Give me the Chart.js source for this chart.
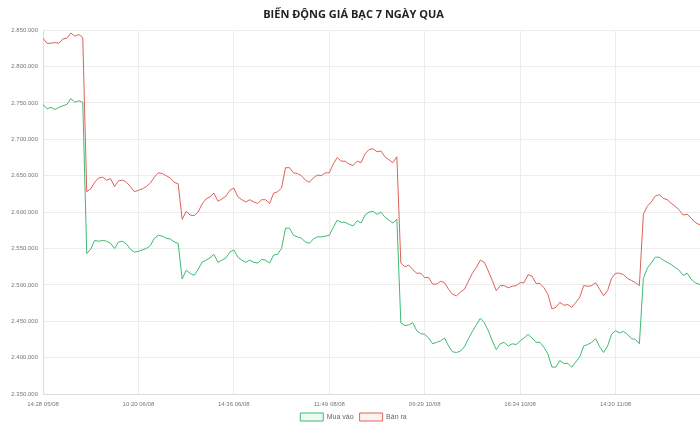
<!DOCTYPE html>
<html>
<head>
<meta charset="utf-8">
<script src="https://cdn.jsdelivr.net/npm/chart.js@4/dist/chart.umd.min.js"></script>
<style>
  html, body { margin: 0; padding: 0; background: #fff; overflow: hidden; }
  #wrap { width: 700px; height: 428px; overflow: hidden; }
</style>
</head>
<body>
<div id="wrap"><canvas id="silver-chart" width="710" height="428"></canvas></div>
<script>
// nhãn trục thời gian (chỉ những mốc được hiện)
const tickLabels = ['14:28 05/08', '10:20 06/08', '14:36 06/08', '11:49 08/08', '09:29 10/08', '16:34 10/08', '14:20 11/08'];
const tickIndex = [0, 24, 48, 72, 96, 120, 144];

// giá mua vào
const muaVao = [
  2748000, 2742000, 2744000, 2741000, 2744000, 2746000, 2748000, 2756000, 2751000, 2753000, 2751000,
  2543000, 2549000, 2561000, 2560000, 2561000, 2560000, 2557000, 2550000, 2559000, 2560000,
  2556000, 2549000, 2545000, 2546000, 2548000, 2550000, 2554000, 2564000, 2568000, 2567000,
  2564000, 2563000, 2559000, 2557000, 2508000, 2520000, 2516000, 2513000, 2521000, 2531000,
  2534000, 2537000, 2542000, 2531000, 2534000, 2537000, 2545000, 2548000, 2538000, 2534000,
  2531000, 2534000, 2531000, 2530000, 2535000, 2534000, 2530000, 2541000, 2542000, 2550000,
  2578000, 2578000, 2568000, 2566000, 2564000, 2559000, 2557000, 2563000, 2566000, 2566000,
  2567000, 2568000, 2579000, 2589000, 2586000, 2586000, 2583000, 2581000, 2588000, 2585000,
  2596000, 2600000, 2601000, 2597000, 2600000, 2593000, 2589000, 2585000, 2590000, 2448000,
  2444000, 2445000, 2448000, 2437000, 2433000, 2432000, 2427000, 2419000, 2421000, 2423000,
  2427000, 2416000, 2408000, 2407000, 2409000, 2415000, 2426000, 2436000, 2445000, 2454000,
  2448000, 2437000, 2423000, 2411000, 2419000, 2421000, 2416000, 2419000, 2418000, 2423000,
  2427000, 2432000, 2427000, 2421000, 2421000, 2414000, 2405000, 2387000, 2387000, 2396000,
  2392000, 2392000, 2387000, 2394000, 2401000, 2416000, 2418000, 2421000, 2426000, 2415000,
  2407000, 2416000, 2432000, 2437000, 2434000, 2436000, 2432000, 2426000, 2425000, 2419000,
  2509000, 2523000, 2530000, 2538000, 2538000, 2534000, 2531000, 2528000, 2524000, 2520000,
  2513000, 2516000, 2508000, 2503000, 2501000, 2498000
];

// giá bán ra
const banRa = [
  2839000, 2832000, 2832000, 2833000, 2832000, 2838000, 2839000, 2846000, 2842000, 2844000, 2840000,
  2628000, 2632000, 2641000, 2647000, 2648000, 2644000, 2646000, 2635000, 2643000, 2644000,
  2641000, 2635000, 2628000, 2630000, 2632000, 2635000, 2640000, 2648000, 2654000, 2653000,
  2650000, 2647000, 2641000, 2639000, 2590000, 2601000, 2596000, 2595000, 2600000, 2611000,
  2618000, 2621000, 2626000, 2615000, 2618000, 2622000, 2630000, 2633000, 2621000, 2617000,
  2614000, 2617000, 2614000, 2612000, 2617000, 2617000, 2612000, 2626000, 2628000, 2633000,
  2661000, 2661000, 2654000, 2653000, 2650000, 2644000, 2641000, 2647000, 2651000, 2650000,
  2654000, 2654000, 2666000, 2675000, 2670000, 2670000, 2666000, 2664000, 2670000, 2668000,
  2680000, 2686000, 2687000, 2683000, 2684000, 2676000, 2672000, 2668000, 2676000, 2530000,
  2525000, 2527000, 2521000, 2516000, 2516000, 2510000, 2510000, 2501000, 2501000, 2505000,
  2503000, 2494000, 2487000, 2485000, 2490000, 2494000, 2505000, 2516000, 2524000, 2534000,
  2531000, 2519000, 2506000, 2492000, 2499000, 2499000, 2496000, 2498000, 2499000, 2503000,
  2503000, 2514000, 2512000, 2502000, 2502000, 2496000, 2487000, 2467000, 2469000, 2476000,
  2472000, 2473000, 2469000, 2476000, 2483000, 2499000, 2498000, 2499000, 2503000, 2494000,
  2485000, 2492000, 2509000, 2516000, 2516000, 2514000, 2509000, 2506000, 2503000, 2499000,
  2597000, 2608000, 2614000, 2622000, 2624000, 2619000, 2617000, 2612000, 2608000, 2603000,
  2596000, 2597000, 2592000, 2586000, 2583000, 2581000
];

const labels = muaVao.map((v, i) => {
  const k = tickIndex.indexOf(i);
  return k >= 0 ? tickLabels[k] : '';
});

const fmt = v => String(v).replace(/\B(?=(\d{3})+(?!\d))/g, '.');

new Chart(
  document.getElementById('silver-chart'),
  {
    type: 'line',
    data: {
      labels: labels,
      datasets: [
        {
          label: 'Mua vào',
          data: muaVao,
          borderColor: '#3dbb72',
          backgroundColor: 'rgba(61, 187, 114, 0.08)',
          borderWidth: 1,
          pointRadius: 0,
          tension: 0
        },
        {
          label: 'Bán ra',
          data: banRa,
          borderColor: '#dc625a',
          backgroundColor: 'rgba(220, 98, 90, 0.08)',
          borderWidth: 1,
          pointRadius: 0,
          tension: 0
        }
      ]
    },
    options: {
      responsive: false,
      animation: false,
      layout: { padding: { left: 0, right: 3, top: 0, bottom: -3 } },
      plugins: {
        title: {
          display: true,
          text: 'BIẾN ĐỘNG GIÁ BẠC 7 NGÀY QUA',
          color: '#222',
          font: { family: 'Open Sans', size: 11, weight: 'bold' },
          padding: { top: 8, bottom: 9 }
        },
        legend: {
          position: 'bottom',
          labels: {
            boxWidth: 23,
            boxHeight: 8,
            padding: 6,
            color: '#666',
            font: { size: 7 }
          }
        },
        tooltip: { enabled: false }
      },
      scales: {
        x: {
          afterFit: scale => { scale.height = 13; },
          grid: {
            drawTicks: false,
            color: ctx => tickIndex.includes(ctx.index) ? '#ececec' : 'rgba(0,0,0,0)'
          },
          border: { color: '#dcdcdc' },
          ticks: {
            autoSkip: false,
            maxRotation: 0,
            minRotation: 0,
            padding: 7,
            color: '#777',
            font: { size: 6 },
            callback: (value, index) => labels[index]
          }
        },
        y: {
          min: 2350000,
          max: 2850000,
          afterFit: scale => { scale.width = 43; },
          grid: { drawTicks: false, color: '#ececec' },
          border: { color: '#dcdcdc' },
          ticks: {
            stepSize: 50000,
            padding: 5,
            color: '#777',
            font: { size: 6 },
            callback: v => fmt(v)
          }
        }
      }
    }
  }
);
</script>
</body>
</html>
